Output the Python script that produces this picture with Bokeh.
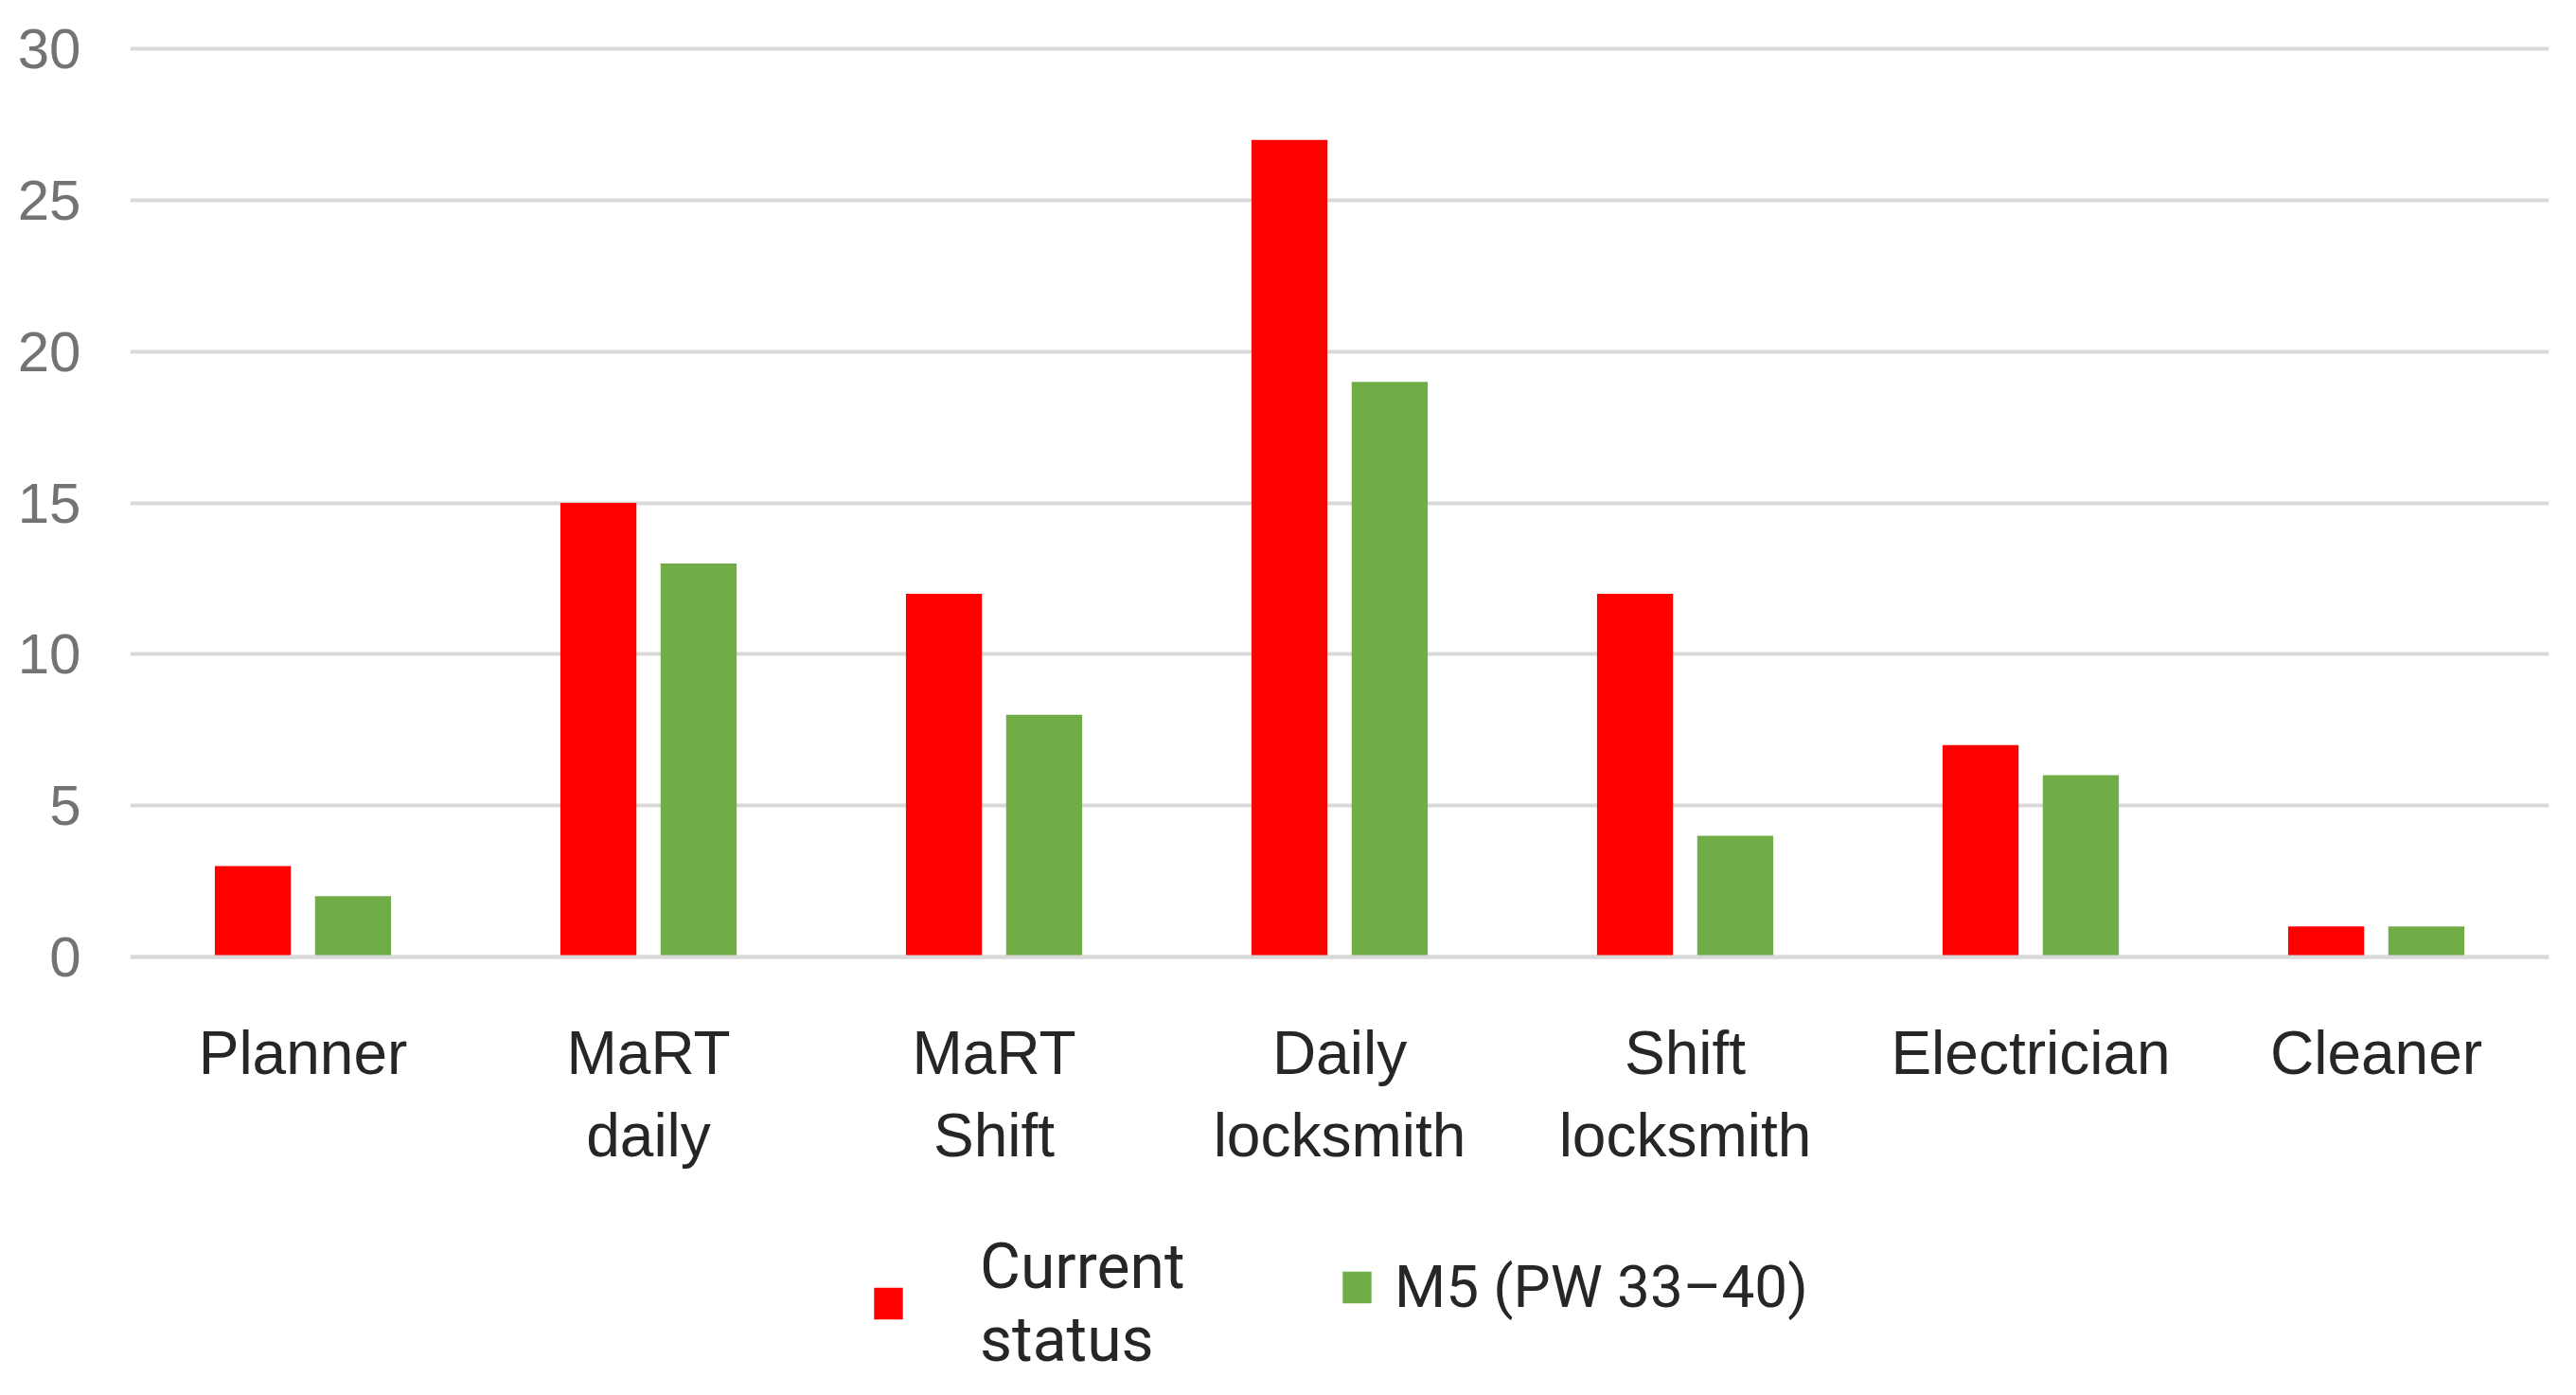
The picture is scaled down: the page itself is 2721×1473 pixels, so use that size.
from bokeh.plotting import figure
from bokeh.models import ColumnDataSource, FactorRange, Range1d, FixedTicker, Legend, LegendItem
from bokeh.transform import dodge
from bokeh.embed import file_html
from bokeh.resources import INLINE

# ---- data ----
categories = ["Planner", "MaRT\ndaily", "MaRT\nShift", "Daily\nlocksmith",
              "Shift\nlocksmith", "Electrician", "Cleaner"]
current_status = [3, 15, 12, 27, 12, 7, 1]
m5_pw_33_40 = [2, 13, 8, 19, 4, 6, 1]
series_names = ["Current\nstatus", "M5 (PW 33\u201340)"]
y_ticks = [0, 5, 10, 15, 20, 25, 30]

RED = "#ff0000"
GREEN = "#70ad47"

src = ColumnDataSource(dict(cat=categories, cur=current_status, m5=m5_pw_33_40))

# the frame reaches down to the page bottom; the category axis sits at y = 0
p = figure(
    x_range=FactorRange(factors=categories),
    y_range=Range1d(-14.0, 30.2),
    width=2705, height=1457,
    output_backend="svg", toolbar_location=None,
    min_border_left=137, min_border_right=13,
    min_border_top=45, min_border_bottom=0,
)
p.outline_line_color = None
p.background_fill_color = "white"

r1 = p.vbar(x=dodge("cat", -0.145, range=p.x_range), top="cur", bottom=0, width=0.22,
            source=src, fill_color=RED, line_color=None)
r2 = p.vbar(x=dodge("cat", 0.145, range=p.x_range), top="m5", bottom=0, width=0.22,
            source=src, fill_color=GREEN, line_color=None)

# x axis
p.xaxis.fixed_location = 0
p.xaxis.major_tick_line_color = None
p.xaxis.minor_tick_line_color = None
p.xaxis.axis_line_color = "#d9d9d9"
p.xaxis.axis_line_width = 4
p.xaxis.major_label_text_font = "Liberation Sans"
p.xaxis.major_label_text_font_size = "64px"
p.xaxis.major_label_text_color = "#262626"
p.xaxis.major_label_standoff = 60
p.xgrid.grid_line_color = None

# y axis
p.yaxis.ticker = FixedTicker(ticks=y_ticks)
p.yaxis.axis_line_color = None
p.yaxis.major_tick_line_color = None
p.yaxis.minor_tick_line_color = None
p.yaxis.major_label_text_font = "Liberation Sans"
p.yaxis.major_label_text_font_size = "60px"
p.yaxis.major_label_text_color = "#737373"
p.yaxis.major_label_standoff = 46
p.ygrid.ticker = FixedTicker(ticks=y_ticks)
p.ygrid.grid_line_color = "#d9d9d9"
p.ygrid.grid_line_width = 4


def make_legend(item, loc, standoff, fsize):
    return Legend(items=[item], location=loc, orientation="horizontal",
                  border_line_color=None, background_fill_alpha=0,
                  padding=0, margin=0, spacing=0,
                  glyph_width=38, glyph_height=42, label_standoff=standoff,
                  label_text_font="Roboto", label_text_font_size=fsize,
                  label_text_color="#262626")


leg1 = make_legend(LegendItem(label=series_names[0], renderers=[r1]), (782, 4), 78, "66px")
leg2 = make_legend(LegendItem(label=series_names[1], renderers=[r2]), (1277, 62), 21, "62px")
p.add_layout(leg1, "center")
p.add_layout(leg2, "center")

open("out.html", "w").write(file_html(p, INLINE))
